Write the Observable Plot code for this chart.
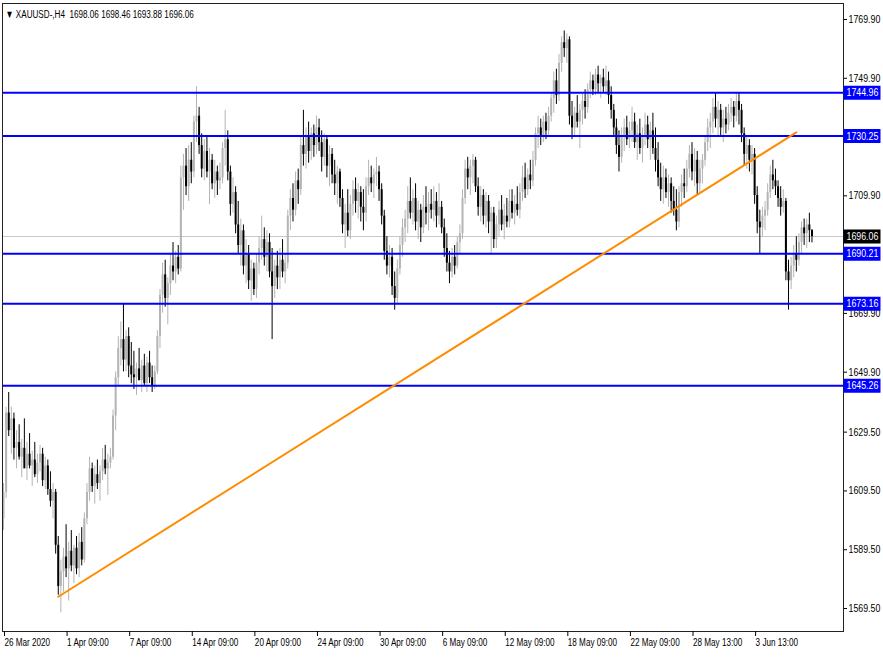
<!DOCTYPE html>
<html>
<head>
<meta charset="utf-8">
<script src="https://cdn.jsdelivr.net/npm/d3@7"></script>
<script src="https://cdn.jsdelivr.net/npm/@observablehq/plot@0.6"></script>
<style>
  html, body { margin: 0; padding: 0; background: #fff; }
  #chart { width: 883px; height: 657px; }
</style>
</head>
<body>
<div id="chart"></div>
<script>
// ---------------- DATA ----------------
const symbolName = "XAUUSD-,H4";

const open = [
1600,1609,1636,1630,1634,1624,1626,1621,1624,1617,
1622,1618,1620,1615,1619,1622,1613,1618,1610,1606,
1609,1591,1577,1582,1587,1583,1589,1584,1590,1583,
1592,1586,1600,1609,1617,1611,1615,1612,1616,1620,
1617,1619,1621,1635,1648,1658,1661,1654,1662,1652,
1649,1648,1651,1647,1652,1646,1653,1648,1645,1650,
1662,1676,1683,1675,1680,1686,1684,1689,1685,1716,
1720,1713,1722,1718,1735,1737,1727,1719,1725,1718,
1722,1714,1718,1715,1716,1726,1729,1718,1707,1711,
1700,1693,1698,1686,1690,1681,1685,1678,1687,1692,
1695,1689,1694,1684,1679,1686,1682,1688,1684,1687,
1703,1709,1705,1715,1712,1727,1724,1730,1725,1731,
1727,1733,1728,1723,1729,1720,1724,1717,1714,1718,
1709,1700,1704,1698,1707,1712,1708,1711,1706,1704,
1713,1716,1714,1717,1718,1712,1703,1691,1686,1689,
1679,1675,1685,1693,1699,1702,1708,1704,1709,1701,
1705,1699,1706,1704,1707,1705,1708,1703,1706,1699,
1692,1687,1684,1689,1686,1694,1697,1709,1719,1716,
1720,1722,1713,1706,1710,1703,1708,1701,1704,1695,
1700,1705,1700,1703,1701,1708,1704,1707,1705,1711,
1716,1712,1717,1715,1722,1731,1733,1730,1735,1732,
1737,1743,1749,1744,1755,1762,1760,1763,1737,1733,
1738,1735,1739,1742,1740,1746,1749,1746,1751,1748,
1750,1747,1749,1744,1739,1733,1727,1723,1730,1733,
1729,1732,1735,1728,1731,1726,1730,1734,1729,1732,
1726,1722,1716,1712,1716,1711,1714,1708,1705,1701,
1711,1714,1713,1719,1724,1718,1722,1714,1719,1722,
1728,1733,1735,1740,1736,1739,1733,1736,1734,1738,
1740,1737,1742,1739,1731,1724,1727,1722,1724,1710,
1701,1699,1703,1705,1711,1717,1715,1713,1709,1706,
1708,1684,1681,1686,1690,1688,1694,1699,1697,1700,1698.06];

const high = [
1612,1638,1643,1638,1636,1630,1632,1627,1634,1626,
1629,1623,1626,1622,1625,1624,1621,1620,1616,1612,
1610,1594,1586,1590,1598,1592,1596,1591,1594,1595,
1597,1602,1612,1621,1619,1618,1620,1618,1624,1625,
1622,1624,1637,1650,1662,1667,1673,1664,1665,1660,
1657,1653,1658,1654,1656,1655,1657,1652,1652,1664,
1678,1687,1688,1682,1690,1694,1691,1693,1720,1724,
1726,1727,1728,1737,1747,1740,1731,1729,1730,1726,
1724,1722,1720,1721,1728,1739,1732,1720,1716,1713,
1708,1702,1700,1695,1693,1688,1687,1690,1696,1703,
1699,1698,1697,1692,1688,1691,1692,1695,1690,1705,
1712,1714,1718,1719,1730,1739,1733,1735,1733,1734,
1737,1736,1732,1731,1730,1727,1726,1722,1720,1719,
1712,1707,1712,1710,1715,1716,1714,1713,1712,1716,
1722,1720,1719,1723,1720,1714,1705,1696,1693,1692,
1684,1688,1696,1702,1705,1713,1716,1712,1714,1708,
1707,1710,1713,1711,1712,1713,1711,1714,1708,1702,
1697,1691,1692,1693,1696,1700,1712,1722,1723,1722,
1724,1723,1716,1713,1712,1711,1710,1706,1706,1703,
1708,1710,1707,1709,1712,1712,1710,1713,1714,1720,
1721,1719,1722,1725,1733,1737,1736,1737,1738,1740,
1745,1752,1753,1758,1764,1766,1765,1764,1742,1740,
1744,1741,1745,1746,1748,1752,1751,1753,1754,1751,
1753,1754,1752,1747,1741,1736,1732,1733,1736,1737,
1735,1740,1738,1734,1736,1733,1738,1737,1735,1738,
1733,1728,1721,1720,1719,1717,1716,1713,1712,1713,
1717,1719,1722,1727,1728,1726,1725,1722,1724,1730,
1736,1738,1743,1745,1742,1741,1739,1740,1741,1743,
1742,1745,1745,1741,1733,1730,1729,1727,1726,1713,
1705,1706,1708,1714,1720,1722,1719,1715,1713,1712,
1709,1688,1689,1693,1696,1697,1701,1702,1702,1704,1698.46];

const low = [
1596,1607,1628,1622,1620,1617,1620,1614,1619,1613,
1617,1611,1614,1612,1616,1611,1610,1608,1604,1600,
1588,1574,1568,1575,1580,1572,1582,1578,1581,1580,
1584,1585,1598,1606,1609,1605,1610,1606,1613,1615,
1608,1617,1620,1630,1645,1652,1650,1650,1648,1646,
1644,1642,1647,1643,1645,1643,1646,1643,1644,1649,
1658,1670,1672,1666,1676,1681,1680,1683,1684,1705,
1710,1708,1714,1716,1728,1724,1716,1715,1716,1707,
1712,1709,1710,1712,1714,1720,1715,1703,1704,1697,
1690,1686,1683,1680,1678,1674,1676,1675,1683,1688,
1686,1684,1682,1661,1675,1678,1678,1682,1680,1685,
1698,1701,1703,1707,1710,1720,1719,1721,1722,1723,
1724,1725,1718,1720,1716,1713,1714,1710,1707,1706,
1697,1692,1696,1695,1703,1704,1702,1701,1698,1701,
1710,1711,1709,1713,1708,1700,1688,1683,1682,1676,
1671,1673,1683,1689,1694,1697,1702,1700,1698,1695,
1694,1697,1700,1698,1702,1701,1699,1700,1697,1689,
1684,1680,1682,1683,1685,1690,1695,1707,1712,1710,
1714,1711,1703,1701,1700,1699,1697,1690,1692,1692,
1696,1698,1695,1699,1699,1702,1700,1703,1702,1708,
1709,1710,1712,1713,1720,1726,1727,1728,1729,1730,
1735,1738,1741,1742,1752,1757,1755,1734,1729,1730,
1733,1726,1734,1736,1738,1743,1744,1744,1745,1743,
1745,1744,1741,1736,1730,1724,1718,1721,1725,1727,
1726,1728,1726,1722,1724,1721,1727,1726,1722,1724,
1718,1713,1708,1707,1709,1706,1704,1703,1698,1699,
1706,1709,1711,1716,1715,1713,1710,1711,1714,1720,
1725,1726,1731,1733,1730,1730,1728,1731,1732,1735,
1733,1735,1734,1728,1720,1719,1718,1717,1707,1697,
1690,1696,1698,1703,1709,1712,1710,1706,1703,1704,
1681,1671,1678,1682,1684,1686,1690,1693,1692,1694,1693.88];

const close = [
1609,1636,1630,1634,1624,1626,1621,1624,1617,1622,
1618,1620,1615,1619,1622,1613,1618,1610,1606,1609,
1591,1577,1582,1587,1583,1589,1584,1590,1583,1592,
1586,1600,1609,1617,1611,1615,1612,1616,1620,1617,
1619,1621,1635,1648,1658,1661,1654,1662,1652,1649,
1648,1651,1647,1652,1646,1653,1648,1645,1650,1662,
1676,1683,1675,1680,1686,1684,1689,1685,1716,1720,
1713,1722,1718,1735,1737,1727,1719,1725,1718,1722,
1714,1718,1715,1716,1726,1729,1718,1707,1711,1700,
1693,1698,1686,1690,1681,1685,1678,1687,1692,1695,
1689,1694,1684,1679,1686,1682,1688,1684,1687,1703,
1709,1705,1715,1712,1727,1724,1730,1725,1731,1727,
1733,1728,1723,1729,1720,1724,1717,1714,1718,1709,
1700,1704,1698,1707,1712,1708,1711,1706,1704,1713,
1716,1714,1717,1718,1712,1703,1691,1686,1689,1679,
1675,1685,1693,1699,1702,1708,1704,1709,1701,1705,
1699,1706,1704,1707,1705,1708,1703,1706,1699,1692,
1687,1684,1689,1686,1694,1697,1709,1719,1716,1720,
1722,1713,1706,1710,1703,1708,1701,1704,1695,1700,
1705,1700,1703,1701,1708,1704,1707,1705,1711,1716,
1712,1717,1715,1722,1731,1733,1730,1735,1732,1737,
1743,1749,1744,1755,1762,1760,1763,1737,1733,1738,
1735,1739,1742,1740,1746,1749,1746,1751,1748,1750,
1747,1749,1744,1739,1733,1727,1723,1730,1733,1729,
1732,1735,1728,1731,1726,1730,1734,1729,1732,1726,
1722,1716,1712,1716,1711,1714,1708,1705,1701,1711,
1714,1713,1719,1724,1718,1722,1714,1719,1722,1728,
1733,1735,1740,1736,1739,1733,1736,1734,1738,1740,
1737,1742,1739,1731,1724,1727,1722,1724,1710,1701,
1699,1703,1705,1711,1717,1715,1713,1709,1706,1708,
1684,1681,1686,1690,1688,1694,1699,1697,1700,1698.06,1696.06];

// time-axis labels (one every 24 H4 bars)
const timeLabelBars = [0, 24, 48, 72, 96, 120, 144, 168, 192, 216, 240, 264, 288];
const timeLabels = ["26 Mar 2020", "1 Apr 09:00", "7 Apr 09:00", "14 Apr 09:00", "20 Apr 09:00",
  "24 Apr 09:00", "30 Apr 09:00", "6 May 09:00", "12 May 09:00", "18 May 09:00",
  "22 May 09:00", "28 May 13:00", "3 Jun 13:00"];

// price-axis tick labels (1729.90 and 1689.90 sit hidden under the level boxes)
const priceTicks = [1769.90, 1749.90, 1709.90, 1669.90, 1649.90, 1629.50, 1609.50, 1589.50, 1569.50];

// horizontal support / resistance levels
const levels = [1744.96, 1730.25, 1690.21, 1673.16, 1645.26];

// trend line (bar index, price)
const trendBars = [21, 304];
const trendPrices = [1573.5, 1731.5];

// ---------------- BUILD ----------------
const bars = close.map((c, i) => ({ i, o: open[i], h: high[i], l: low[i], c, up: c >= open[i] }));
const last = bars[bars.length - 1];
const trend = trendBars.map((b, k) => ({ i: b, p: trendPrices[k] }));

const W = 883, H = 657;
const mL = 2, mR = 40, mT = 3, mB = 26;
const pxPerBar = 2.608;
const xMin = -1 / pxPerBar;
const xMax = (W - mL - mR - 1) / pxPerBar;
const yDomain = [1561.67, 1775.34];

const upColor = "#b4b4b4", downColor = "#000000";
const boxSymbol = { draw(ctx) { ctx.moveTo(0, -7); ctx.lineTo(37, -7); ctx.lineTo(37, 7); ctx.lineTo(0, 7); ctx.closePath(); } };

const fmt = d => d.toFixed(2);

const chart = Plot.plot({
  width: W, height: H,
  marginLeft: mL, marginRight: mR, marginTop: mT, marginBottom: mB,
  style: { fontFamily: "'Liberation Sans', Arial, sans-serif", fontSize: "11px", background: "#fff", color: "#000", overflow: "visible" },
  x: { domain: [xMin, xMax], axis: null },
  y: { domain: yDomain, axis: null },
  marks: [
    Plot.ruleY([last.c], { stroke: "#c8c8c8", strokeWidth: 1 }),
    Plot.ruleX(bars, { x: "i", y1: "l", y2: "h", stroke: d => d.up ? upColor : downColor, strokeWidth: 1 }),
    Plot.ruleX(bars, { x: "i", y1: "o", y2: "c", stroke: d => d.up ? upColor : downColor, strokeWidth: 2 }),
    Plot.ruleY(levels, { stroke: "#0000ff", strokeWidth: 2 }),
    Plot.line(trend, { x: "i", y: "p", stroke: "#ff8c00", strokeWidth: 2 }),
    Plot.frame({ stroke: "#222" }),
    Plot.axisX(timeLabelBars, { anchor: "bottom", label: null, tickSize: 5, tickPadding: 2, textAnchor: "start", dx: 1, tickFormat: (d) => timeLabels[timeLabelBars.indexOf(d)], fill: "#000" }),
    Plot.axisY(priceTicks, { anchor: "right", label: null, tickSize: 3, tickPadding: 2, tickFormat: fmt, fill: "#000" }),
    Plot.dot(levels, { x: () => xMax, y: d => d, symbol: boxSymbol, fill: "#0000ff", stroke: null }),
    Plot.text(levels, { x: () => xMax, y: d => d, text: fmt, fill: "#fff", textAnchor: "start", dx: 3 }),
    Plot.dot([last.c], { x: () => xMax, y: d => d, symbol: boxSymbol, fill: "#000", stroke: null }),
    Plot.text([last.c], { x: () => xMax, y: d => d, text: fmt, fill: "#fff", textAnchor: "start", dx: 3 }),
    Plot.text([`\u25BC ${symbolName}\u00A0\u00A0${fmt(last.o)} ${fmt(last.h)} ${fmt(last.l)} ${fmt(last.c)}`],
      { frameAnchor: "top-left", text: d => d, dx: 3, dy: 11, textAnchor: "start", lineAnchor: "middle", fill: "#000" })
  ]
});
document.getElementById("chart").appendChild(chart);

// the reference uses a narrow screen font: squeeze the glyphs horizontally
d3.select(chart).selectAll("text").each(function () {
  const t = this.textContent;
  const f = /^\d{4}\.\d{2}$/.test(t) ? 0.8 : 0.74;
  const tr = this.getAttribute("transform");
  if (tr) {
    this.setAttribute("transform", `${tr} scale(${f},1)`);
  } else {
    const x = +(this.getAttribute("x") || 0);
    this.setAttribute("x", 0);
    this.setAttribute("transform", `translate(${x},0) scale(${f},1)`);
  }
});
</script>
</body>
</html>
